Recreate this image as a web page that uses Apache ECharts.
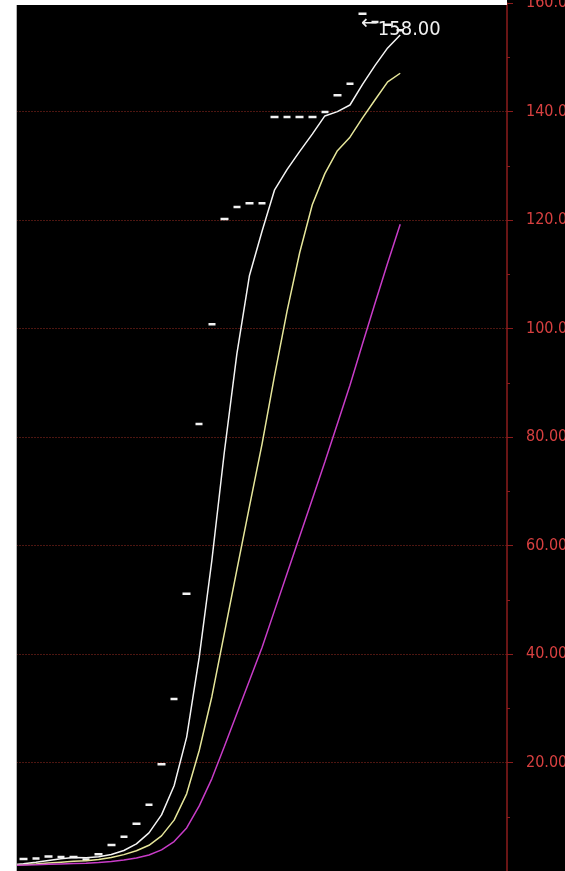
<!DOCTYPE html>
<html>
<head>
<meta charset="utf-8">
<script src="https://cdn.jsdelivr.net/npm/echarts@6/dist/echarts.min.js"></script>
<style>
  html, body { margin: 0; padding: 0; background: #ffffff; overflow: hidden; }
  #chart { width: 565px; height: 871px; }
</style>
</head>
<body>
<div id="chart"></div>
<script>
// ---- data ----
const categories = ['1','2','3','4','5','6','7','8','9','10','11','12','13','14','15','16','17','18','19','20',
                    '21','22','23','24','25','26','27','28','29','30','31','32','33','34','35','36','37','38','39','40'];
// one-price (limit) bars: open = close = low = high
const barPrices = [1.5, 2.2, 2.3, 2.67, 2.6, 2.6, 2.1, 3.1, 4.8, 6.3, 8.7, 12.2, 19.7, 31.7, 51.1, 82.4,
                   100.8, 120.2, 122.4, 123.1, 123.1, 139.0, 139.0, 139.0, 139.0, 139.9, 143.0, 145.1,
                   158.0, 156.5, 156.0, 155.0];
const ma5 = [1.1, 1.34, 1.6, 1.93, 2.25, 2.47, 2.45, 2.61, 3.04, 3.78, 5.0, 7.02, 10.34, 15.72, 24.68, 39.42,
             57.14, 77.24, 95.38, 109.78, 117.92, 125.56, 129.32, 132.64, 135.82, 139.18, 139.98, 141.2,
             145.0, 148.5, 151.72, 154.12];
const ma10 = [1.05, 1.17, 1.30, 1.47, 1.63, 1.79, 1.90, 2.11, 2.49, 3.02, 3.74, 4.74, 6.48, 9.38, 14.23, 22.21,
              32.08, 43.79, 55.55, 67.23, 78.67, 91.35, 103.28, 114.01, 122.80, 128.55, 132.77, 135.26,
              138.82, 142.16, 145.45, 147.05];
const ma20 = [1.025, 1.085, 1.15, 1.23, 1.31, 1.39, 1.45, 1.55, 1.74, 2.01, 2.39, 2.95, 3.89, 5.42, 7.93, 12.0,
              16.99, 22.95, 29.02, 35.12, 41.20, 48.04, 54.88, 61.70, 68.52, 75.38, 82.43, 89.53,
              97.19, 104.70, 112.06, 119.2];
const highIndex = 28;
const highValue = 158.0;
const yTicks = [20, 40, 60, 80, 100, 120, 140, 160];
const yTickLabels = ['20.00', '40.00', '60.00', '80.00', '100.0', '120.0', '140.0', '160.0'];

// ---- chart ----
const narrow = "'Liberation Sans Narrow', 'DejaVu Sans Condensed', 'Arial Narrow', sans-serif";
const chart = echarts.init(document.getElementById('chart'), null, { renderer: 'canvas' });
const candleData = barPrices.map(p => [p, p, p, p]);

chart.setOption({
  animation: false,
  backgroundColor: '#000000',
  grid: { left: 4.5, right: 58, top: 3, bottom: 0, containLabel: false, outerBoundsMode: 'none' },
  xAxis: {
    type: 'category',
    data: categories,
    boundaryGap: true,
    show: false
  },
  yAxis: {
    type: 'value',
    position: 'right',
    min: 0,
    max: 160,
    interval: 20,
    axisLine: { show: true, lineStyle: { color: '#8c1c1c', width: 1.5 } },
    axisTick: { show: true, inside: false, length: 6, lineStyle: { color: '#8c1c1c' } },
    minorTick: { show: true, splitNumber: 2, length: 3, lineStyle: { color: '#8c1c1c' } },
    axisLabel: {
      show: true,
      margin: 19,
      color: '#d84040',
      fontSize: 16,
      fontFamily: narrow,
      showMinLabel: true,
      showMaxLabel: true,
      formatter: function (v) {
        const k = yTicks.indexOf(v);
        return k >= 0 ? yTickLabels[k] : '';
      }
    },
    splitLine: { show: true, lineStyle: { color: '#9a2c22', width: 1, type: [1, 2] } }
  },
  series: [
    {
      type: 'candlestick',
      data: candleData,
      barWidth: 8,
      clip: true,
      itemStyle: {
        color: '#f2f2f2', color0: '#f2f2f2',
        borderColor: '#f2f2f2', borderColor0: '#f2f2f2', borderColorDoji: '#f2f2f2',
        borderWidth: 2.5
      },
      markPoint: {
        symbol: 'circle',
        symbolSize: 1,
        itemStyle: { color: 'rgba(0,0,0,0)' },
        data: [{ coord: [highIndex, highValue], value: highValue }],
        label: {
          show: true,
          position: 'right',
          distance: 0,
          offset: [-2, 13],
          formatter: function (p) { return '{a|\u2190}{b|' + p.value.toFixed(2) + '}'; },
          rich: {
            a: { color: '#f0f0f0', fontSize: 20, fontFamily: 'DejaVu Sans', verticalAlign: 'top', lineHeight: 26 },
            b: { color: '#f0f0f0', fontSize: 20, fontFamily: narrow, verticalAlign: 'bottom', lineHeight: 26 }
          }
        }
      },
      z: 3
    },
    {
      type: 'line', name: 'MA5', data: ma5, symbol: 'none', smooth: false,
      lineStyle: { color: '#f4f4f4', width: 1.5 }, z: 4
    },
    {
      type: 'line', name: 'MA10', data: ma10, symbol: 'none', smooth: false,
      lineStyle: { color: '#e6e69a', width: 1.5 }, z: 4
    },
    {
      type: 'line', name: 'MA20', data: ma20, symbol: 'none', smooth: false,
      lineStyle: { color: '#c83cc8', width: 1.5 }, z: 4
    }
  ],
  graphic: [
    { type: 'rect', z: 100, shape: { x: 0, y: 0, width: 16, height: 871 }, style: { fill: '#ffffff' } },
    { type: 'rect', z: 100, shape: { x: 0, y: 0, width: 507, height: 5 }, style: { fill: '#ffffff' } },
    { type: 'rect', z: 100, shape: { x: 16, y: 5, width: 1, height: 866 }, style: { fill: '#b4b4b4' } }
  ]
});
</script>
</body>
</html>
